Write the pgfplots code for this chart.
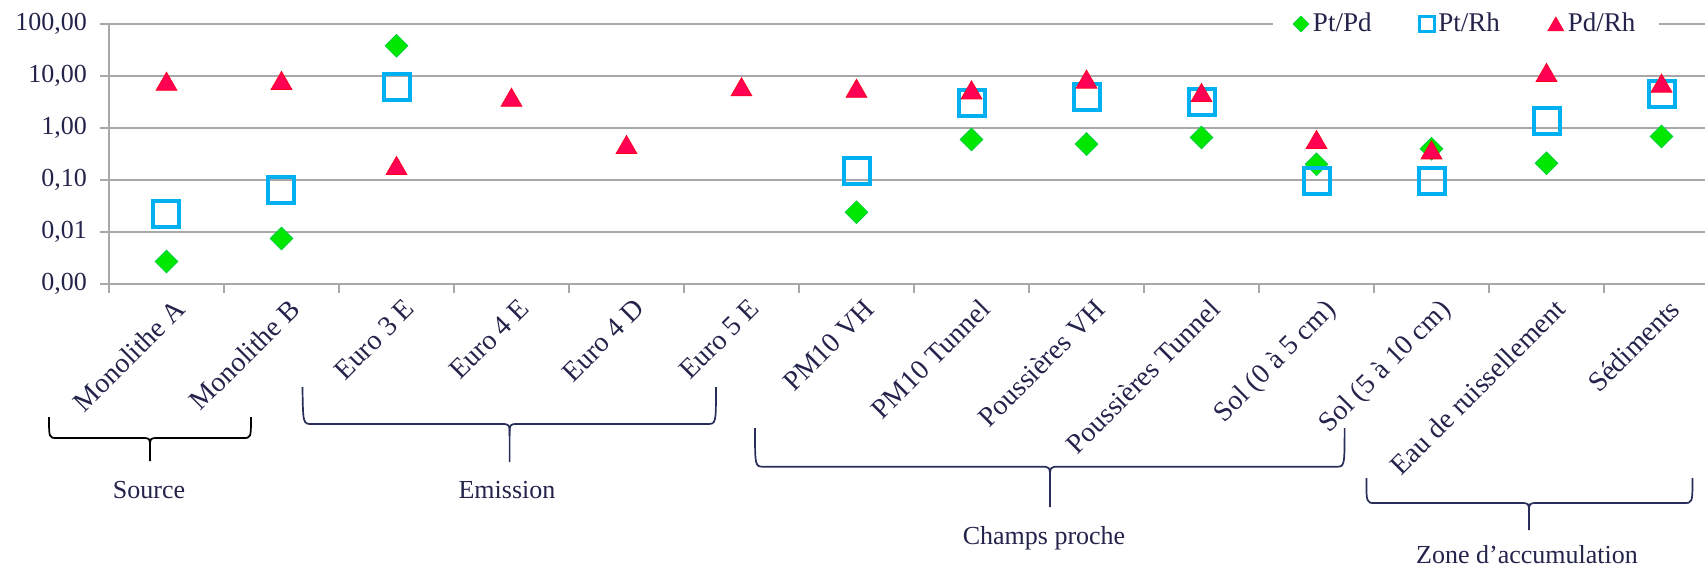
\documentclass[border=0pt]{standalone}
\usepackage{fontspec}
\setmainfont{Liberation Serif}
\usepackage{pgfplots}
\pgfplotsset{compat=1.18}
\definecolor{txt}{RGB}{35,35,75}
\definecolor{brc}{RGB}{40,45,90}
\definecolor{gridc}{RGB}{168,168,168}
\definecolor{cgreen}{RGB}{0,232,0}
\definecolor{cgreenE}{RGB}{0,205,60}
\definecolor{cblue}{RGB}{0,176,240}
\definecolor{cred}{RGB}{255,0,85}
\definecolor{credE}{RGB}{255,0,30}

\pgfplotstableread{
x y
0 0.0027
1 0.0075
2 38
6 0.024
7 0.60
8 0.49
9 0.66
10 0.20
11 0.40
12 0.21
13 0.69
}\ptpd
\pgfplotstableread{
x y
0 0.022
1 0.064
2 6.1
6 0.15
7 3.0
8 3.9
9 3.1
10 0.097
11 0.097
12 1.38
13 4.6
}\ptrh
\pgfplotstableread{
x y
0 7.9
1 8.2
2 0.19
3 3.9
4 0.48
5 6.2
6 5.8
7 5.4
8 8.7
9 4.8
10 0.60
11 0.38
12 11.7
13 7.3
}\pdrh

\begin{document}
\begin{tikzpicture}
\begin{axis}[
  at={(0,0)}, anchor=south west,
  scale only axis, width=805pt, height=130pt,
  ymode=log, ymin=0.001, ymax=100,
  xmin=-0.5, xmax=13.5,
  axis x line=bottom, axis y line=left,
  axis line style={-, draw=gridc, line width=0.75pt},
  ymajorgrids, grid style={draw=gridc, line width=0.75pt},
  ytick={0.001,0.01,0.1,1,10,100},
  yticklabels={{0,00},{0,01},{0,10},{1,00},{10,00},{100,00}},
  yminorticks=false,
  xtick={-0.5,0.5,...,13.5},
  xticklabels={},
  extra x ticks={0,1,...,13},
  extra x tick labels={Monolithe A,Monolithe B,Euro 3 E,Euro 4 E,Euro 4 D,Euro 5 E,PM10 VH,PM10 Tunnel,Poussières VH,Poussières Tunnel,Sol (0 à 5 cm),Sol (5 à 10 cm),Eau de ruissellement,Sédiments},
  extra x tick style={major tick length=0pt, xticklabel style={rotate=45, anchor=north east, font=\fontsize{14}{16}\selectfont, text=txt, xshift=1pt, yshift=-3.5pt}},
  tick align=outside,
  major tick length=4.5pt,
  tick style={draw=gridc, line width=0.75pt},
  yticklabel style={font=\fontsize{13}{15}\selectfont, text=txt, xshift=-3pt},
  clip=false,
  legend style={at={(0.843,1.0)}, anchor=center, draw=none, fill=white,
    font=\fontsize{13.5}{15}\selectfont, text=txt, inner xsep=10pt, inner ysep=1pt,
    nodes={inner xsep=2pt},
    /tikz/every even column/.append style={column sep=22pt}},
  legend columns=3,
]
\addplot[only marks, mark=square*, mark size=4pt, mark options={rotate=45, fill=cgreen, draw=cgreenE, line width=0.4pt},
  legend image code/.code={\draw[mark=square*, mark size=2.8pt, mark options={rotate=45, fill=cgreen, draw=cgreenE, line width=0.3pt}] plot coordinates {(0pt,0pt)};}]
  table[x=x,y=y]{\ptpd};
\addlegendentry{Pt/Pd}
\addplot[only marks, mark=square, mark size=6.5pt, mark options={draw=cblue, line width=2pt},
  legend image code/.code={\draw[mark=square, mark size=3.7pt, mark options={draw=cblue, line width=1.4pt}] plot coordinates {(0pt,0pt)};}]
  table[x=x,y=y]{\ptrh};
\addlegendentry{Pt/Rh}
\addplot[only marks, mark=triangle*, mark size=6pt, mark options={fill=cred, draw=credE, line width=0.4pt, yshift=-1.5pt},
  legend image code/.code={\draw[mark=triangle*, mark size=4.6pt, mark options={fill=cred, draw=credE, line width=0.3pt, yshift=-1.1pt}] plot coordinates {(0pt,0pt)};}]
  table[x=x,y=y]{\pdrh};
\addlegendentry{Pd/Rh}
\end{axis}

\begin{scope}[x=0.5pt, y=-0.5pt, shift={(-54.5pt,142pt)}, line width=0.85pt]
  % Source
  \draw[black] (49,417) .. controls (49,438) and (49,438) .. (57,438) -- (142,438) .. controls (150,438) and (150,438) .. (150,448) -- (150,461);
  \draw[black] (150,448) .. controls (150,438) and (150,438) .. (158,438) -- (243,438) .. controls (251,438) and (251,438) .. (251,417);
  % Emission
  \draw[brc] (302.5,387) .. controls (303,424) and (303,424) .. (312,424) -- (501,424) .. controls (509.6,424) and (509.6,424) .. (509.6,436) -- (509.6,462);
  \draw[brc] (509.6,436) .. controls (509.6,424) and (509.6,424) .. (518,424) -- (707,424) .. controls (716,424) and (716,424) .. (716,387);
  % Champs proche
  \draw[brc] (755,428) .. controls (755,466.7) and (755,466.7) .. (764,466.7) -- (1041,466.7) .. controls (1050,466.7) and (1050,466.7) .. (1050,480) -- (1050,507);
  \draw[brc] (1050,480) .. controls (1050,466.7) and (1050,466.7) .. (1059,466.7) -- (1336,466.7) .. controls (1344.6,466.7) and (1344.6,466.7) .. (1344.6,428);
  % Zone d'accumulation
  \draw[brc] (1366.4,478) .. controls (1366.4,503) and (1366.4,503) .. (1375,503) -- (1520,503) .. controls (1529,503) and (1529,503) .. (1529,513) -- (1529,530);
  \draw[brc] (1529,513) .. controls (1529,503) and (1529,503) .. (1538,503) -- (1684,503) .. controls (1692.5,503) and (1692.5,503) .. (1692.5,478);
  \begin{scope}[font=\fontsize{13}{15}\selectfont, text=txt]
    \node[anchor=base] at (149,498) {Source};
    \node[anchor=base] at (507,498) {Emission};
    \node[anchor=base] at (1044,544) {Champs proche};
    \node[anchor=base] at (1527,563) {Zone d’accumulation};
  \end{scope}
\end{scope}
\pgfresetboundingbox
\path[use as bounding box] (-54.5pt,-143pt) rectangle (798pt,142pt);
\end{tikzpicture}
\end{document}
